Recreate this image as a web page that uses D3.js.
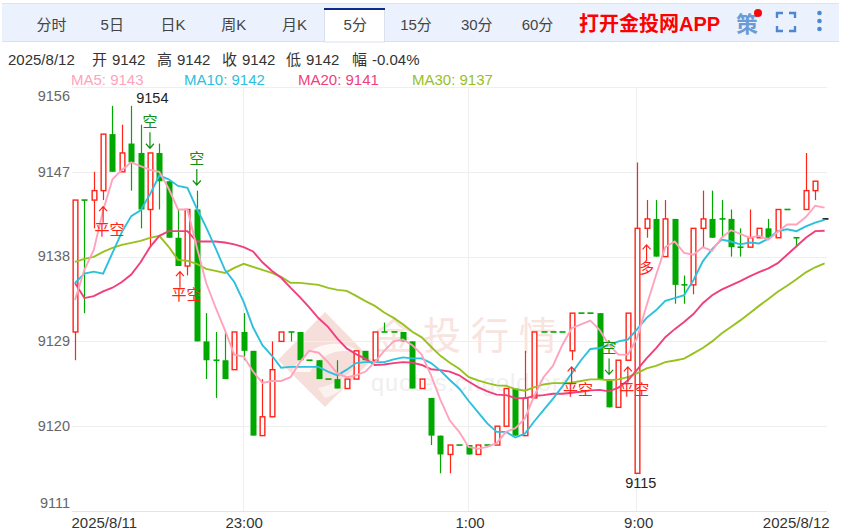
<!DOCTYPE html>
<html><head><meta charset="utf-8">
<script src="https://cdn.jsdelivr.net/npm/d3@7/dist/d3.min.js"></script>
<style>
html,body{margin:0;padding:0;background:#fff;}
svg{display:block;font-family:"Liberation Sans","Noto Sans CJK SC",sans-serif;}
</style></head><body><svg id="c" width="848" height="530"></svg>
<script>
const tabs=["分时","5日","日K","周K","月K","5分","15分","30分","60分"];
const yTicks=[9156,9147,9138,9129,9120,9111];
const xTickIdx=[0,18,42,60,80];
const xTickLabels=["2025/8/11","23:00","1:00","9:00","2025/8/12"];
const opens=[9130,9144,9144,9145,9151,9147,9150,9149,9143,9149,9146,9140,9137,9143,9129,9127,9127,9126,9130,9128,9119,9121,9129,9130,9130,9127,9127,9125,9125,9124,9125,9128,9127,9130,9130,9130,9129,9124,9123,9119,9117,9118,9118,9117,9118,9118,9120,9124,9119,9123,9130,9130,9130,9128,9132,9132,9132,9125,9122,9127,9115,9141,9142,9138,9142,9135,9135,9141,9142,9142,9142,9139,9139,9140,9141,9140,9143,9140,9143,9145,9142];
const highs=[9144,9144,9147,9151,9154,9152,9154,9152,9149,9150,9146,9143,9143,9145,9132,9130,9130,9130,9132,9128,9125,9129,9130,9130,9130,9127,9127,9125,9127,9125,9128,9128,9130,9131,9130,9130,9129,9125,9123,9119,9118,9118,9118,9118,9118,9120,9124,9124,9128,9130,9130,9130,9130,9132,9132,9132,9132,9125,9127,9132,9148,9144,9144,9144,9142,9136,9141,9145,9145,9144,9143,9141,9143,9141,9142,9143,9143,9140,9149,9146,9142];
const lows=[9127,9132,9141,9144,9147,9147,9145,9141,9139,9143,9140,9137,9136,9129,9125,9123,9125,9126,9127,9119,9119,9121,9129,9129,9127,9127,9125,9125,9124,9124,9125,9127,9127,9130,9130,9129,9124,9124,9118,9115,9115,9118,9117,9117,9118,9118,9120,9119,9119,9123,9130,9130,9130,9127,9132,9132,9125,9122,9122,9127,9115,9140,9138,9138,9133,9133,9134,9139,9140,9140,9138,9138,9139,9140,9140,9140,9143,9139,9143,9144,9142];
const closes=[9144,9144,9145,9151,9147,9149,9148,9143,9149,9146,9140,9137,9143,9129,9127,9127,9125,9130,9128,9119,9121,9126,9130,9130,9127,9127,9125,9125,9124,9125,9128,9127,9130,9130,9130,9129,9124,9125,9119,9117,9118,9118,9117,9118,9118,9120,9124,9119,9123,9130,9130,9130,9130,9132,9132,9132,9125,9122,9127,9132,9141,9142,9138,9142,9135,9135,9141,9142,9140,9142,9139,9139,9140,9141,9140,9143,9143,9140,9145,9146,9142];
const ma5=[9133.4,9136.6,9138.7,9142.9,9146.2,9147.2,9148,9147.6,9147.2,9147,9145.2,9143,9143,9139,9135.2,9132.6,9130.2,9127.6,9127.4,9125.8,9124.6,9124.8,9124.8,9125.2,9126.8,9128,9127.8,9126.8,9125.6,9125.2,9125.4,9125.8,9126.8,9128,9129,9129.2,9128.6,9127.6,9125.4,9122.8,9120.6,9119.4,9117.8,9117.6,9117.8,9118.2,9119.4,9119.8,9120.8,9123.2,9125.2,9126.4,9128.6,9130.4,9130.8,9131.2,9130.2,9128.6,9127.6,9127.6,9129.4,9132.8,9136,9139,9139.6,9138.4,9138.2,9139,9138.6,9140,9140.8,9140.4,9140,9140.2,9139.8,9140.6,9141.4,9141.4,9142.2,9143.4,9143.2];
const ma10=[9135.2,9136.2,9136.4,9136.2,9138.4,9140.6,9142.3,9142.9,9144.6,9146.6,9146.2,9145.5,9145.3,9143.1,9141.1,9138.9,9136.6,9135.3,9133.2,9130.5,9128.6,9127.5,9126.2,9126.3,9126.3,9126.3,9126.3,9125.8,9125.4,9126,9126.7,9126.8,9126.8,9126.8,9127.1,9127.3,9127.2,9127.2,9126.7,9125.9,9124.9,9124,9122.7,9121.5,9120.3,9119.4,9119.4,9118.8,9119.2,9120.5,9121.7,9122.9,9124.2,9125.6,9127,9128.2,9128.3,9128.6,9129,9129.2,9130.3,9131.5,9132.3,9133.3,9133.6,9133.9,9135.5,9137.5,9138.8,9139.8,9139.6,9139.3,9139.5,9139.4,9139.9,9140.7,9140.9,9140.7,9141.2,9141.6,9141.9];
const ma20=[9135.2,9133.6,9133.8,9134.3,9134.7,9135.3,9136.1,9137.4,9139,9140.2,9140.7,9140.7,9140.7,9139.6,9139.6,9139.6,9139.5,9139.3,9139,9138.55,9137.4,9136.5,9135.75,9134.7,9133.7,9132.6,9131.45,9130.55,9129.3,9128.25,9127.65,9127.15,9126.5,9126.55,9126.7,9126.8,9126.75,9126.5,9126.05,9125.95,9125.8,9125.4,9124.75,9124.15,9123.7,9123.35,9123.3,9123,9122.95,9123.2,9123.3,9123.45,9123.45,9123.55,9123.65,9123.8,9123.85,9123.7,9124.1,9124.85,9126,9127.2,9128.25,9129.45,9130.3,9131.05,9131.9,9133.05,9133.9,9134.5,9134.95,9135.4,9135.9,9136.35,9136.75,9137.3,9138.2,9139.1,9140,9140.7,9140.75];
const ma30=[9137.44,9137.76,9137.97,9138.5,9138.93,9139.25,9139.46,9139.67,9139.99,9140.2,9139.04,9137.65,9137.55,9137.23,9136.7,9136.49,9136.27,9136.8,9137.23,9136.91,9136.59,9136.27,9135.85,9135.21,9135.21,9135.1,9135,9134.68,9134.47,9134.37,9133.83,9133.27,9132.77,9132.07,9131.5,9130.83,9130.03,9129.43,9128.43,9127.47,9126.73,9126.1,9125.23,9124.87,9124.57,9124.33,9124.3,9123.93,9123.77,9124.13,9124.43,9124.57,9124.57,9124.63,9124.8,9124.97,9124.97,9124.87,9124.97,9125.2,9125.63,9126.13,9126.4,9126.8,9126.97,9127.17,9127.73,9128.3,9129,9129.83,9130.53,9131.23,9132,9132.77,9133.5,9134.27,9134.9,9135.6,9136.33,9136.87,9137.27];
const maNames=["MA5: 9143","MA10: 9142","MA20: 9141","MA30: 9137"];
const maColors=["#ffa3bd","#2cc0de","#f03f7c","#98c11f"];
const infoWords=["2025/8/12","开","9142","高","9142","收","9142","低","9142","幅","-0.04%"];
// trade signals: candle index, price at the arrow tip, direction, text
const sigIdx=[3,8,13,11.2,53,57,59,61];
const sigTip=[9143.3,9149.5,9145.6,9136.4,9126.3,9125.5,9126.3,9139.25];
const sigDir=["up","down","down","up","up","down","up","up"];
const sigText=["平空","空","空","平空","平空","空","平空","多"];

const svg=d3.select("#c");
const x=d3.scaleLinear().domain([0,80]).range([75,824.6]);
const y=d3.scaleLinear().domain([9111,9156]).range([511,87]);
const RED="#ff2318",GREEN="#00a800";

// toolbar
svg.append("rect").attr("x",2).attr("y",3).attr("width",837).attr("height",39).attr("fill","#ebf2fd");
svg.append("line").attr("x1",2).attr("x2",839).attr("y1",3.5).attr("y2",3.5).attr("stroke","#dfe3ea");
svg.append("line").attr("x1",2).attr("x2",839).attr("y1",41.5).attr("y2",41.5).attr("stroke","#d9e1ee");
const tabW=60.75;
svg.append("rect").attr("x",324.5).attr("y",9).attr("width",60).attr("height",33).attr("fill","#fff").attr("stroke","#d9e1ee");
svg.append("rect").attr("x",324).attr("y",8).attr("width",61).attr("height",2).attr("fill","#0b2a8c");
svg.selectAll("text.tab").data(tabs).join("text").attr("class","tab")
  .attr("x",(d,i)=>51.5+tabW*i).attr("y",30).attr("text-anchor","middle")
  .attr("font-size",15).attr("fill","#444").text(d=>d);
svg.append("text").attr("x",579).attr("y",31).attr("font-size",20).attr("font-weight","bold").attr("fill","#ff0000").text("打开金投网APP");
svg.append("text").attr("x",736).attr("y",32).attr("font-size",22).attr("font-weight","bold").attr("fill","#6b9ad4").text("策");
svg.append("circle").attr("cx",758).attr("cy",13).attr("r",4).attr("fill","#f40a0a");
svg.append("path").attr("d","M777 18V13H783M789 13H795V18M795 26V31H789M783 31H777V26").attr("fill","none").attr("stroke","#4c87d2").attr("stroke-width",2.4);
svg.selectAll("circle.dot").data([13,21,29]).join("circle").attr("class","dot").attr("cx",819.5).attr("cy",d=>d).attr("r",2.3).attr("fill","#4c87d2");

// info
const infoX=[8,92,112,157,177,222,242,286,306,352,372];
svg.selectAll("text.info").data(infoWords).join("text").attr("class","info")
  .attr("x",(d,i)=>infoX[i]).attr("y",65).attr("font-size",15).attr("fill","#333").text(d=>d);
svg.selectAll("text.ma").data(maNames).join("text").attr("class","ma")
  .attr("x",(d,i)=>[71,184,298,412][i]).attr("y",85).attr("font-size",15)
  .attr("fill",(d,i)=>maColors[i]).text(d=>d);

// watermark
const wm=svg.append("g");
wm.append("path").attr("d","M325 312L372 360L325 407L278 360Z").attr("fill","#f6dfda");
wm.append("path").attr("d","M292 372C305 342 345 335 362 355C345 347 322 350 310 372Z").attr("fill","#fff").attr("opacity",.75);
wm.append("path").attr("d","M318 388C335 385 350 375 356 364C352 382 338 395 325 398Z").attr("fill","#fff").attr("opacity",.6);
wm.append("text").attr("x",375).attr("y",349).attr("font-size",38).attr("letter-spacing",10).attr("fill","#f9e3de").text("金投行情");
wm.append("text").attr("x",371).attr("y",391).attr("font-size",23.5).attr("letter-spacing",1).attr("fill","#efefef").text("quotes.cngold.org");

// grid
const gx=svg.append("g"),gy=svg.append("g");
gy.selectAll("line").data(yTicks).join("line").attr("x1",72).attr("x2",827)
  .attr("y1",d=>Math.round(y(d))+.5).attr("y2",d=>Math.round(y(d))+.5).attr("stroke","#eeeeee").attr("stroke-width",1);
gx.selectAll("line").data(xTickIdx.slice(1,4)).join("line").attr("x1",d=>Math.round(x(d))-.5).attr("x2",d=>Math.round(x(d))-.5)
  .attr("y1",87).attr("y2",511).attr("stroke","#eeeeee");
svg.append("line").attr("x1",72).attr("x2",827).attr("y1",511.5).attr("y2",511.5).attr("stroke","#e4e4e4");

// axes
const ay=svg.append("g").attr("transform","translate(71,0)").call(d3.axisLeft(y).tickValues(yTicks).tickSize(0).tickPadding(1).tickFormat(d3.format("d")));
ay.select(".domain").remove();
ay.selectAll("text").attr("font-family","inherit").attr("font-size",14.5).attr("fill","#666")
  .attr("dy",d=>d===9156?"0.95em":d===9111?"-0.25em":"0.3em");
const ax=svg.append("g").attr("transform","translate(0,511)").call(d3.axisBottom(x).tickValues(xTickIdx).tickSize(0).tickPadding(4).tickFormat((d,i)=>xTickLabels[i]));
ax.select(".domain").remove();
ax.selectAll("text").attr("font-family","inherit").attr("font-size",15).attr("fill","#333").attr("dy","0.85em")
  .attr("text-anchor",(d,i)=>i===0?"start":i===4?"end":"middle")
  .attr("dx",(d,i)=>i===0?-4:i===4?4.5:i===2?1:i===3?1:0);

// candles
const idx=d3.range(opens.length);
const col=i=>i===80?"#111":(closes[i]>opens[i]?RED:GREEN);
const cg=svg.append("g");
cg.selectAll("line.wick").data(idx.filter(i=>highs[i]>lows[i])).join("line").attr("class","wick")
  .attr("x1",i=>Math.round(x(i))+.5).attr("x2",i=>Math.round(x(i))+.5)
  .attr("y1",i=>y(highs[i])).attr("y2",i=>y(lows[i])).attr("stroke",col).attr("stroke-width",1.2);
cg.selectAll("rect.body").data(idx).join("rect").attr("class","body")
  .attr("x",i=>Math.round(x(i))+.5-(closes[i]>opens[i]?2.35:3))
  .attr("width",i=>closes[i]>opens[i]?4.7:6)
  .attr("y",i=>closes[i]===opens[i]?y(closes[i])-.8:y(Math.max(opens[i],closes[i])))
  .attr("height",i=>closes[i]===opens[i]?1.6:Math.abs(y(opens[i])-y(closes[i])))
  .attr("fill",i=>closes[i]>opens[i]?"#fff":col(i))
  .attr("stroke",i=>closes[i]>opens[i]?RED:"none").attr("stroke-width",1.4);

// MAs
const lineGen=d3.line().x((d,i)=>x(i)).y(d=>y(d));
svg.append("g").selectAll("path").data([ma30,ma20,ma10,ma5]).join("path")
  .attr("d",lineGen).attr("fill","none").attr("stroke-width",1.9)
  .attr("stroke",(d,i)=>[maColors[3],maColors[2],maColors[1],maColors[0]][i]);

// signals
const sg=svg.append("g");
sigIdx.forEach((k,n)=>{
  const up=sigDir[n]==="up",c=up?"#ff2318":"#109010";
  const px=x(k),t=y(sigTip[n]),s=up?1:-1,tail=t+s*16,g=sg.append("g");
  g.append("path").attr("d",`M${px} ${tail}V${t}M${px-4} ${t+s*4.5}L${px} ${t}L${px+4} ${t+s*4.5}`).attr("fill","none").attr("stroke",c).attr("stroke-width",1.2);
  const tx=sigText[n].length===2?px+6.5:px;
  g.append("text").attr("x",tx).attr("y",up?tail+12:tail-5).attr("text-anchor","middle").attr("font-size",15).attr("fill",c)
    .text(sigText[n]);
});

// extremes
svg.append("text").attr("x",x(6)+5).attr("y",103).attr("font-size",14.5).attr("fill","#222").text(d3.max(highs));
svg.append("text").attr("x",x(60)-12).attr("y",488).attr("font-size",14.5).attr("fill","#222").text(d3.min(lows));
</script></body></html>
